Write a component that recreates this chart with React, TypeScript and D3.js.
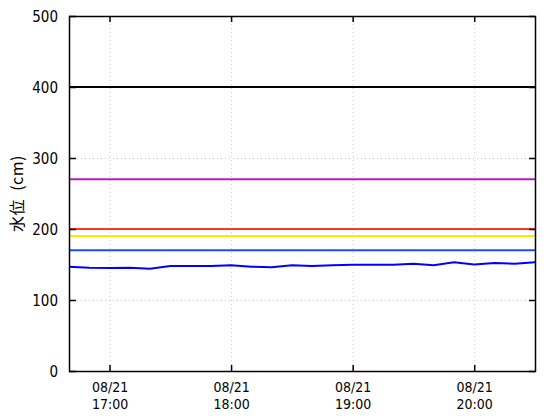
import { useRef, useEffect } from "react";
import * as d3 from "d3";

const times = [
  "16:40", "16:50", "17:00", "17:10", "17:20", "17:30", "17:40", "17:50",
  "18:00", "18:10", "18:20", "18:30", "18:40", "18:50", "19:00", "19:10",
  "19:20", "19:30", "19:40", "19:50", "20:00", "20:10", "20:20", "20:30",
];
const levels = [
  147, 145.5, 145, 145.5, 144, 148, 148, 148,
  149, 147, 146, 149, 148, 149, 149.5, 149.5,
  149.5, 151, 149, 153, 150, 152, 151, 153,
];
const thresholdValues = [400, 270, 200, 190, 170];
const thresholdColors = ["#000000", "#b020c0", "#ff3818", "#f0f000", "#1050ff"];
const yTicks = [0, 100, 200, 300, 400, 500];
const xTickTimes = ["17:00", "18:00", "19:00", "20:00"];
const dateLabel = "08/21";

const parse = (t: string) => {
  const [h, m] = t.split(":").map(Number);
  return new Date(2023, 7, 21, h, m);
};

const width = 560;
const height = 420;
const margin = { top: 16, right: 25, bottom: 49, left: 69 };
const font = "'DejaVu Sans Condensed', 'Liberation Sans Narrow', sans-serif";

const App = () => {
  const ref = useRef<SVGSVGElement | null>(null);

  useEffect(() => {
    if (!ref.current) return;
    const svg = d3.select(ref.current);
    svg.selectAll("*").remove();

    const x = d3
      .scaleTime()
      .domain([parse(times[0]), parse(times[times.length - 1])])
      .range([margin.left, width - margin.right]);
    const y = d3.scaleLinear().domain([0, 500]).range([height - margin.bottom, margin.top]);

    const x0 = margin.left;
    const x1 = width - margin.right;
    const y0 = height - margin.bottom;
    const y1 = margin.top;

    // grid
    svg.append("g")
      .selectAll("line")
      .data(yTicks.slice(1, -1))
      .join("line")
      .attr("x1", x0).attr("x2", x1)
      .attr("y1", (d) => y(d) + 0.5).attr("y2", (d) => y(d) + 0.5)
      .attr("stroke", "#c8c8c8")
      .attr("stroke-dasharray", "1,3");
    svg.append("g")
      .selectAll("line")
      .data(xTickTimes)
      .join("line")
      .attr("x1", (d) => x(parse(d)) + 0.5).attr("x2", (d) => x(parse(d)) + 0.5)
      .attr("y1", y1).attr("y2", y0)
      .attr("stroke", "#c8c8c8")
      .attr("stroke-dasharray", "1,3");

    // thresholds
    svg.append("g")
      .selectAll("line")
      .data(thresholdValues)
      .join("line")
      .attr("x1", x0).attr("x2", x1)
      .attr("y1", (d) => y(d)).attr("y2", (d) => y(d))
      .attr("stroke", (_, i) => thresholdColors[i])
      .attr("stroke-width", 2);

    // water level
    const line = d3
      .line<number>()
      .x((_, i) => x(parse(times[i])))
      .y((d) => y(d));
    svg.append("path")
      .datum(levels)
      .attr("d", line)
      .attr("fill", "none")
      .attr("stroke", "#0000ff")
      .attr("stroke-width", 2);

    // frame
    svg.append("rect")
      .attr("x", x0 + 0.5).attr("y", y1 + 0.5)
      .attr("width", x1 - x0).attr("height", y0 - y1)
      .attr("fill", "none")
      .attr("stroke", "#000")
      .attr("stroke-width", 1.5);

    // ticks
    const t = svg.append("g").attr("stroke", "#000").attr("stroke-width", 1.5);
    yTicks.forEach((v) => {
      t.append("line").attr("x1", x0).attr("x2", x0 + 7).attr("y1", y(v) + 0.5).attr("y2", y(v) + 0.5);
      t.append("line").attr("x1", x1 - 6).attr("x2", x1).attr("y1", y(v) + 0.5).attr("y2", y(v) + 0.5);
    });
    xTickTimes.forEach((s) => {
      const px = x(parse(s)) + 0.5;
      t.append("line").attr("x1", px).attr("x2", px).attr("y1", y0).attr("y2", y0 - 6);
      t.append("line").attr("x1", px).attr("x2", px).attr("y1", y1).attr("y2", y1 + 6);
    });

    // y labels
    svg.append("g")
      .selectAll("text")
      .data(yTicks)
      .join("text")
      .attr("x", 58)
      .attr("y", (d) => y(d) + 6)
      .attr("text-anchor", "end")
      .style("font-family", font)
      .style("font-size", "15px")
      .text((d) => String(d));

    // x labels
    const xl = svg.append("g")
      .selectAll("g")
      .data(xTickTimes)
      .join("g")
      .attr("transform", (d) => `translate(${x(parse(d)) + 0.5},0)`);
    xl.append("text")
      .attr("y", 392)
      .attr("text-anchor", "middle")
      .style("font-family", font)
      .style("font-size", "14px")
      .text(dateLabel);
    xl.append("text")
      .attr("y", 409)
      .attr("text-anchor", "middle")
      .style("font-family", font)
      .style("font-size", "14px")
      .text((d) => d);

    // y title
    svg.append("text")
      .attr("transform", `translate(23,${(y0 + y1) / 2}) rotate(-90)`)
      .attr("text-anchor", "middle")
      .style("font-family", "'Noto Sans CJK JP', sans-serif")
      .style("font-size", "16px")
      .style("letter-spacing", "0.5px")
      .attr("xml:space", "preserve")
      .text("水位  (cm)");
  }, []);

  return (
    <svg
      ref={ref}
      width={width}
      height={height}
      style={{ position: "absolute", left: 0, top: 0, background: "#fff" }}
    />
  );
};

export default App;
